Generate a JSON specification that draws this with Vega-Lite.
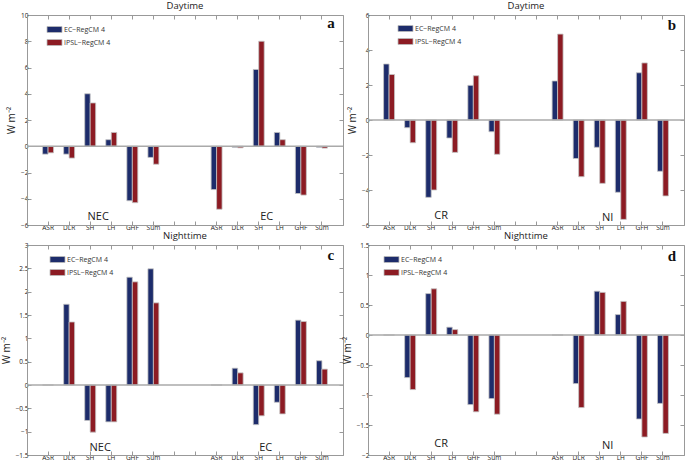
{
  "$schema": "https://vega.github.io/schema/vega-lite/v6.json",
  "padding": {"left": 0, "top": 0, "right": 0, "bottom": 0},
  "bounds": "flush",
  "columns": 2,
  "spacing": {"row": 20, "column": 25},
  "datasets": {
    "d": [
      {"p": "a", "cat": "NEC|ASR", "EC−RegCM 4": -0.6, "IPSL−RegCM 4": -0.5},
      {"p": "a", "cat": "NEC|DLR", "EC−RegCM 4": -0.6, "IPSL−RegCM 4": -0.9},
      {"p": "a", "cat": "NEC|SH", "EC−RegCM 4": 4.0, "IPSL−RegCM 4": 3.3},
      {"p": "a", "cat": "NEC|LH", "EC−RegCM 4": 0.5, "IPSL−RegCM 4": 1.05},
      {"p": "a", "cat": "NEC|GHF", "EC−RegCM 4": -4.15, "IPSL−RegCM 4": -4.3},
      {"p": "a", "cat": "NEC|Sum", "EC−RegCM 4": -0.85, "IPSL−RegCM 4": -1.37},
      {"p": "a", "cat": "EC|ASR", "EC−RegCM 4": -3.3, "IPSL−RegCM 4": -4.8},
      {"p": "a", "cat": "EC|DLR", "EC−RegCM 4": -0.08, "IPSL−RegCM 4": -0.12},
      {"p": "a", "cat": "EC|SH", "EC−RegCM 4": 5.85, "IPSL−RegCM 4": 8.0},
      {"p": "a", "cat": "EC|LH", "EC−RegCM 4": 1.05, "IPSL−RegCM 4": 0.5},
      {"p": "a", "cat": "EC|GHF", "EC−RegCM 4": -3.6, "IPSL−RegCM 4": -3.72},
      {"p": "a", "cat": "EC|Sum", "EC−RegCM 4": -0.08, "IPSL−RegCM 4": -0.14},
      {"p": "b", "cat": "CR|ASR", "EC−RegCM 4": 3.2, "IPSL−RegCM 4": 2.6},
      {"p": "b", "cat": "CR|DLR", "EC−RegCM 4": -0.44, "IPSL−RegCM 4": -1.3},
      {"p": "b", "cat": "CR|SH", "EC−RegCM 4": -4.42, "IPSL−RegCM 4": -4.0},
      {"p": "b", "cat": "CR|LH", "EC−RegCM 4": -1.03, "IPSL−RegCM 4": -1.85},
      {"p": "b", "cat": "CR|GFH", "EC−RegCM 4": 1.98, "IPSL−RegCM 4": 2.53},
      {"p": "b", "cat": "CR|Sum", "EC−RegCM 4": -0.67, "IPSL−RegCM 4": -1.96},
      {"p": "b", "cat": "NI|ASR", "EC−RegCM 4": 2.23, "IPSL−RegCM 4": 4.91},
      {"p": "b", "cat": "NI|DLR", "EC−RegCM 4": -2.2, "IPSL−RegCM 4": -3.24},
      {"p": "b", "cat": "NI|SH", "EC−RegCM 4": -1.56, "IPSL−RegCM 4": -3.62},
      {"p": "b", "cat": "NI|LH", "EC−RegCM 4": -4.13, "IPSL−RegCM 4": -5.68},
      {"p": "b", "cat": "NI|GFH", "EC−RegCM 4": 2.7, "IPSL−RegCM 4": 3.26},
      {"p": "b", "cat": "NI|Sum", "EC−RegCM 4": -2.93, "IPSL−RegCM 4": -4.34},
      {"p": "c", "cat": "NEC|ASR", "EC−RegCM 4": 0, "IPSL−RegCM 4": 0},
      {"p": "c", "cat": "NEC|DLR", "EC−RegCM 4": 1.73, "IPSL−RegCM 4": 1.35},
      {"p": "c", "cat": "NEC|SH", "EC−RegCM 4": -0.76, "IPSL−RegCM 4": -1.01},
      {"p": "c", "cat": "NEC|LH", "EC−RegCM 4": -0.79, "IPSL−RegCM 4": -0.79},
      {"p": "c", "cat": "NEC|GHF", "EC−RegCM 4": 2.31, "IPSL−RegCM 4": 2.21},
      {"p": "c", "cat": "NEC|Sum", "EC−RegCM 4": 2.49, "IPSL−RegCM 4": 1.76},
      {"p": "c", "cat": "EC|ASR", "EC−RegCM 4": 0, "IPSL−RegCM 4": 0},
      {"p": "c", "cat": "EC|DLR", "EC−RegCM 4": 0.36, "IPSL−RegCM 4": 0.26},
      {"p": "c", "cat": "EC|SH", "EC−RegCM 4": -0.85, "IPSL−RegCM 4": -0.66},
      {"p": "c", "cat": "EC|LH", "EC−RegCM 4": -0.37, "IPSL−RegCM 4": -0.62},
      {"p": "c", "cat": "EC|GHF", "EC−RegCM 4": 1.39, "IPSL−RegCM 4": 1.36},
      {"p": "c", "cat": "EC|Sum", "EC−RegCM 4": 0.52, "IPSL−RegCM 4": 0.34},
      {"p": "d", "cat": "CR|ASR", "EC−RegCM 4": 0, "IPSL−RegCM 4": 0},
      {"p": "d", "cat": "CR|DLR", "EC−RegCM 4": -0.71, "IPSL−RegCM 4": -0.91},
      {"p": "d", "cat": "CR|SH", "EC−RegCM 4": 0.69, "IPSL−RegCM 4": 0.77},
      {"p": "d", "cat": "CR|LH", "EC−RegCM 4": 0.13, "IPSL−RegCM 4": 0.09},
      {"p": "d", "cat": "CR|GHF", "EC−RegCM 4": -1.16, "IPSL−RegCM 4": -1.28},
      {"p": "d", "cat": "CR|Sum", "EC−RegCM 4": -1.06, "IPSL−RegCM 4": -1.32},
      {"p": "d", "cat": "NI|ASR", "EC−RegCM 4": 0, "IPSL−RegCM 4": 0},
      {"p": "d", "cat": "NI|DLR", "EC−RegCM 4": -0.81, "IPSL−RegCM 4": -1.21},
      {"p": "d", "cat": "NI|SH", "EC−RegCM 4": 0.73, "IPSL−RegCM 4": 0.71},
      {"p": "d", "cat": "NI|LH", "EC−RegCM 4": 0.34, "IPSL−RegCM 4": 0.56},
      {"p": "d", "cat": "NI|GHF", "EC−RegCM 4": -1.4, "IPSL−RegCM 4": -1.7},
      {"p": "d", "cat": "NI|Sum", "EC−RegCM 4": -1.14, "IPSL−RegCM 4": -1.64}
    ]
  },
  "concat": [
    {
      "title": {"text": "Daytime"},
      "width": 316, "height": 210,
      "resolve": {"axis": {"x": "independent", "y": "independent"}, "legend": {"color": "independent"}},
      "layer": [
        {
          "data": {"name": "d"},
          "transform": [{"filter": "datum.p == 'a'"}, {"fold": ["EC−RegCM 4", "IPSL−RegCM 4"], "as": ["model", "value"]}],
          "mark": {"type": "bar", "stroke": "#c4c4c4", "strokeWidth": 0.8},
          "encoding": {
            "x": {"field": "cat", "type": "nominal", "scale": {"domain": ["NEC|ASR","NEC|DLR","NEC|SH","NEC|LH","NEC|GHF","NEC|Sum","g1","g2","EC|ASR","EC|DLR","EC|SH","EC|LH","EC|GHF","EC|Sum"], "paddingInner": 0.48, "paddingOuter": 0.74}, "axis": {"orient": "bottom", "title": null}},
            "xOffset": {"field": "model", "type": "nominal", "scale": {"domain": ["EC−RegCM 4", "IPSL−RegCM 4"], "paddingInner": 0, "paddingOuter": 0}},
            "y": {"field": "value", "type": "quantitative", "scale": {"domain": [-6, 10], "nice": false}, "axis": {"orient": "left", "format": "~r", "values": [-6,-4,-2,0,2,4,6,8,10], "title": "W m⁻²"}},
            "color": {"field": "model", "type": "nominal", "scale": {"domain": ["EC−RegCM 4", "IPSL−RegCM 4"], "range": ["#1d2c6b", "#8c1b23"]}, "legend": {"orient": "none", "legendX": 24, "legendY": 11, "title": null}}
          }
        },
        {"data": {"values": [{}]}, "mark": {"type": "rule", "color": "#aaaaaa", "strokeWidth": 1.5}, "encoding": {"y": {"datum": 0, "axis": null}}},
        {"data": {"values": [{}]}, "mark": {"type": "text", "fontSize": 11, "baseline": "middle", "dx": 8, "color": "#222"}, "encoding": {"x": {"datum": "NEC|SH", "axis": null}, "y": {"datum": -5.39, "axis": null}, "text": {"value": "NEC"}}},
        {"data": {"values": [{}]}, "mark": {"type": "text", "fontSize": 11, "baseline": "middle", "dx": 8, "color": "#222"}, "encoding": {"x": {"datum": "EC|SH", "axis": null}, "y": {"datum": -5.39, "axis": null}, "text": {"value": "EC"}}},
        {"data": {"values": [{}]}, "mark": {"type": "text", "fontSize": 15, "font": "Liberation Serif", "fontWeight": "bold", "baseline": "middle", "dx": 9, "color": "#111"}, "encoding": {"x": {"datum": "EC|Sum", "axis": {"orient": "top", "labels": false, "domain": false, "title": null}}, "y": {"datum": 9.4, "axis": {"orient": "right", "labels": false, "domain": false, "title": null, "values": [-6,-4,-2,0,2,4,6,8,10]}}, "text": {"value": "a"}}}
      ]
    },
    {
      "title": {"text": "Daytime"},
      "width": 316, "height": 210,
      "resolve": {"axis": {"x": "independent", "y": "independent"}, "legend": {"color": "independent"}},
      "layer": [
        {
          "data": {"name": "d"},
          "transform": [{"filter": "datum.p == 'b'"}, {"fold": ["EC−RegCM 4", "IPSL−RegCM 4"], "as": ["model", "value"]}],
          "mark": {"type": "bar", "stroke": "#c4c4c4", "strokeWidth": 0.8},
          "encoding": {
            "x": {"field": "cat", "type": "nominal", "scale": {"domain": ["CR|ASR","CR|DLR","CR|SH","CR|LH","CR|GFH","CR|Sum","g1","g2","NI|ASR","NI|DLR","NI|SH","NI|LH","NI|GFH","NI|Sum"], "paddingInner": 0.48, "paddingOuter": 0.74}, "axis": {"orient": "bottom", "title": null}},
            "xOffset": {"field": "model", "type": "nominal", "scale": {"domain": ["EC−RegCM 4", "IPSL−RegCM 4"], "paddingInner": 0, "paddingOuter": 0}},
            "y": {"field": "value", "type": "quantitative", "scale": {"domain": [-6, 6], "nice": false}, "axis": {"orient": "left", "format": "~r", "values": [-6,-4,-2,0,2,4,6], "title": "W m⁻²"}},
            "color": {"field": "model", "type": "nominal", "scale": {"domain": ["EC−RegCM 4", "IPSL−RegCM 4"], "range": ["#1d2c6b", "#8c1b23"]}, "legend": {"orient": "none", "legendX": 34, "legendY": 10, "title": null}}
          }
        },
        {"data": {"values": [{}]}, "mark": {"type": "rule", "color": "#aaaaaa", "strokeWidth": 1.5}, "encoding": {"y": {"datum": 0, "axis": null}}},
        {"data": {"values": [{}]}, "mark": {"type": "text", "fontSize": 11, "baseline": "middle", "dx": 10, "color": "#222"}, "encoding": {"x": {"datum": "CR|SH", "axis": null}, "y": {"datum": -5.49, "axis": null}, "text": {"value": "CR"}}},
        {"data": {"values": [{}]}, "mark": {"type": "text", "fontSize": 11, "baseline": "middle", "dx": 8, "color": "#222"}, "encoding": {"x": {"datum": "NI|SH", "axis": null}, "y": {"datum": -5.6, "axis": null}, "text": {"value": "NI"}}},
        {"data": {"values": [{}]}, "mark": {"type": "text", "fontSize": 15, "font": "Liberation Serif", "fontWeight": "bold", "baseline": "middle", "dx": 9, "color": "#111"}, "encoding": {"x": {"datum": "NI|Sum", "axis": {"orient": "top", "labels": false, "domain": false, "title": null}}, "y": {"datum": 5.43, "axis": {"orient": "right", "labels": false, "domain": false, "title": null, "values": [-6,-4,-2,0,2,4,6]}}, "text": {"value": "b"}}}
      ]
    },
    {
      "title": {"text": "Nighttime"},
      "width": 316, "height": 210,
      "resolve": {"axis": {"x": "independent", "y": "independent"}, "legend": {"color": "independent"}},
      "layer": [
        {
          "data": {"name": "d"},
          "transform": [{"filter": "datum.p == 'c'"}, {"fold": ["EC−RegCM 4", "IPSL−RegCM 4"], "as": ["model", "value"]}],
          "mark": {"type": "bar", "stroke": "#c4c4c4", "strokeWidth": 0.8},
          "encoding": {
            "x": {"field": "cat", "type": "nominal", "scale": {"domain": ["NEC|ASR","NEC|DLR","NEC|SH","NEC|LH","NEC|GHF","NEC|Sum","g1","g2","EC|ASR","EC|DLR","EC|SH","EC|LH","EC|GHF","EC|Sum"], "paddingInner": 0.48, "paddingOuter": 0.74}, "axis": {"orient": "bottom", "title": null}},
            "xOffset": {"field": "model", "type": "nominal", "scale": {"domain": ["EC−RegCM 4", "IPSL−RegCM 4"], "paddingInner": 0, "paddingOuter": 0}},
            "y": {"field": "value", "type": "quantitative", "scale": {"domain": [-1.5, 3], "nice": false}, "axis": {"orient": "left", "format": "~r", "values": [-1.5,-1,-0.5,0,0.5,1,1.5,2,2.5,3], "title": "W m⁻²"}},
            "color": {"field": "model", "type": "nominal", "scale": {"domain": ["EC−RegCM 4", "IPSL−RegCM 4"], "range": ["#1d2c6b", "#8c1b23"]}, "legend": {"orient": "none", "legendX": 27, "legendY": 11, "title": null}}
          }
        },
        {"data": {"values": [{}]}, "mark": {"type": "rule", "color": "#aaaaaa", "strokeWidth": 1.5}, "encoding": {"y": {"datum": 0, "axis": null}}},
        {"data": {"values": [{}]}, "mark": {"type": "text", "fontSize": 11, "baseline": "middle", "dx": 10, "color": "#222"}, "encoding": {"x": {"datum": "NEC|SH", "axis": null}, "y": {"datum": -1.35, "axis": null}, "text": {"value": "NEC"}}},
        {"data": {"values": [{}]}, "mark": {"type": "text", "fontSize": 11, "baseline": "middle", "dx": 7, "color": "#222"}, "encoding": {"x": {"datum": "EC|SH", "axis": null}, "y": {"datum": -1.35, "axis": null}, "text": {"value": "EC"}}},
        {"data": {"values": [{}]}, "mark": {"type": "text", "fontSize": 15, "font": "Liberation Serif", "fontWeight": "bold", "baseline": "middle", "dx": 9, "color": "#111"}, "encoding": {"x": {"datum": "EC|Sum", "axis": {"orient": "top", "labels": false, "domain": false, "title": null}}, "y": {"datum": 2.79, "axis": {"orient": "right", "labels": false, "domain": false, "title": null, "values": [-1.5,-1,-0.5,0,0.5,1,1.5,2,2.5,3]}}, "text": {"value": "c"}}}
      ]
    },
    {
      "title": {"text": "Nighttime"},
      "width": 316, "height": 210,
      "resolve": {"axis": {"x": "independent", "y": "independent"}, "legend": {"color": "independent"}},
      "layer": [
        {
          "data": {"name": "d"},
          "transform": [{"filter": "datum.p == 'd'"}, {"fold": ["EC−RegCM 4", "IPSL−RegCM 4"], "as": ["model", "value"]}],
          "mark": {"type": "bar", "stroke": "#c4c4c4", "strokeWidth": 0.8},
          "encoding": {
            "x": {"field": "cat", "type": "nominal", "scale": {"domain": ["CR|ASR","CR|DLR","CR|SH","CR|LH","CR|GHF","CR|Sum","g1","g2","NI|ASR","NI|DLR","NI|SH","NI|LH","NI|GHF","NI|Sum"], "paddingInner": 0.48, "paddingOuter": 0.74}, "axis": {"orient": "bottom", "title": null}},
            "xOffset": {"field": "model", "type": "nominal", "scale": {"domain": ["EC−RegCM 4", "IPSL−RegCM 4"], "paddingInner": 0, "paddingOuter": 0}},
            "y": {"field": "value", "type": "quantitative", "scale": {"domain": [-2, 1.5], "nice": false}, "axis": {"orient": "left", "format": "~r", "values": [-2,-1.5,-1,-0.5,0,0.5,1,1.5], "title": "W m⁻²"}},
            "color": {"field": "model", "type": "nominal", "scale": {"domain": ["EC−RegCM 4", "IPSL−RegCM 4"], "range": ["#1d2c6b", "#8c1b23"]}, "legend": {"orient": "none", "legendX": 20, "legendY": 11, "title": null}}
          }
        },
        {"data": {"values": [{}]}, "mark": {"type": "rule", "color": "#aaaaaa", "strokeWidth": 1.5}, "encoding": {"y": {"datum": 0, "axis": null}}},
        {"data": {"values": [{}]}, "mark": {"type": "text", "fontSize": 11, "baseline": "middle", "dx": 10, "color": "#222"}, "encoding": {"x": {"datum": "CR|SH", "axis": null}, "y": {"datum": -1.82, "axis": null}, "text": {"value": "CR"}}},
        {"data": {"values": [{}]}, "mark": {"type": "text", "fontSize": 11, "baseline": "middle", "dx": 8, "color": "#222"}, "encoding": {"x": {"datum": "NI|SH", "axis": null}, "y": {"datum": -1.85, "axis": null}, "text": {"value": "NI"}}},
        {"data": {"values": [{}]}, "mark": {"type": "text", "fontSize": 15, "font": "Liberation Serif", "fontWeight": "bold", "baseline": "middle", "dx": 9, "color": "#111"}, "encoding": {"x": {"datum": "NI|Sum", "axis": {"orient": "top", "labels": false, "domain": false, "title": null}}, "y": {"datum": 1.32, "axis": {"orient": "right", "labels": false, "domain": false, "title": null, "values": [-2,-1.5,-1,-0.5,0,0.5,1,1.5]}}, "text": {"value": "d"}}}
      ]
    }
  ],
  "config": {
    "font": "Open Sans",
    "view": {"stroke": "#999999", "strokeWidth": 1},
    "title": {"fontSize": 9.5, "fontWeight": "normal", "color": "#222", "offset": 2, "font": "Open Sans"},
    "axis": {
      "grid": false,
      "domainColor": "#999999",
      "tickColor": "#999999",
      "tickSize": -4,
      "labelColor": "#222",
      "labelFontSize": 6.5,
      "labelPadding": 3,
      "labelAngle": 0,
      "titleFontSize": 10,
      "titleFontWeight": "normal",
      "titleColor": "#222",
      "titlePadding": 4,
      "labelExpr": "indexof(datum.label, '|') >= 0 ? split(datum.label, '|')[1] : (datum.label == 'g1' || datum.label == 'g2' ? '' : datum.label)"
    },
    "legend": {
      "symbolType": "M-2.5,-1H2.5V1H-2.5Z",
      "symbolSize": 36,
      "symbolStrokeColor": "#bbbbbb",
      "symbolStrokeWidth": 0.8,
      "symbolOpacity": 1,
      "labelFontSize": 7,
      "labelColor": "#333",
      "labelOffset": 6,
      "rowPadding": 2,
      "padding": 0
    }
  }
}
